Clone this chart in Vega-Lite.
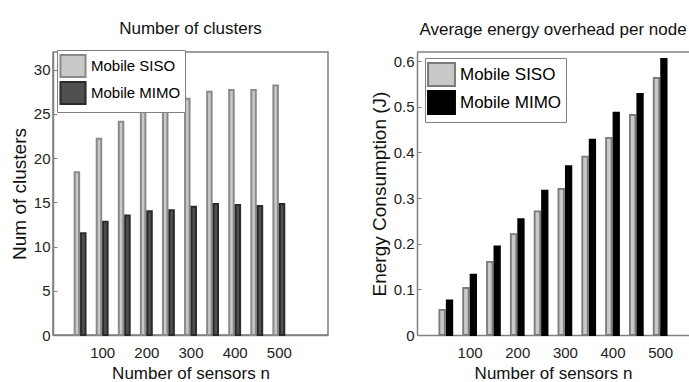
{
  "$schema": "https://vega.github.io/schema/vega-lite/v6.json",
  "background": "white",
  "padding": {"left": 9, "top": 18, "right": 0, "bottom": 0},
  "spacing": 41,
  "datasets": {
    "clusters": [
      {"n": 50, "series": "Mobile SISO", "value": 18.4},
      {"n": 100, "series": "Mobile SISO", "value": 22.2},
      {"n": 150, "series": "Mobile SISO", "value": 24.1},
      {"n": 200, "series": "Mobile SISO", "value": 25.3},
      {"n": 250, "series": "Mobile SISO", "value": 25.8},
      {"n": 300, "series": "Mobile SISO", "value": 26.7},
      {"n": 350, "series": "Mobile SISO", "value": 27.5},
      {"n": 400, "series": "Mobile SISO", "value": 27.7},
      {"n": 450, "series": "Mobile SISO", "value": 27.7},
      {"n": 500, "series": "Mobile SISO", "value": 28.2},
      {"n": 50, "series": "Mobile MIMO", "value": 11.5},
      {"n": 100, "series": "Mobile MIMO", "value": 12.8},
      {"n": 150, "series": "Mobile MIMO", "value": 13.5},
      {"n": 200, "series": "Mobile MIMO", "value": 14.0},
      {"n": 250, "series": "Mobile MIMO", "value": 14.1},
      {"n": 300, "series": "Mobile MIMO", "value": 14.5},
      {"n": 350, "series": "Mobile MIMO", "value": 14.8},
      {"n": 400, "series": "Mobile MIMO", "value": 14.7},
      {"n": 450, "series": "Mobile MIMO", "value": 14.6},
      {"n": 500, "series": "Mobile MIMO", "value": 14.8}
    ],
    "energy": [
      {"n": 50, "series": "Mobile SISO", "value": 0.055},
      {"n": 100, "series": "Mobile SISO", "value": 0.103},
      {"n": 150, "series": "Mobile SISO", "value": 0.160},
      {"n": 200, "series": "Mobile SISO", "value": 0.221},
      {"n": 250, "series": "Mobile SISO", "value": 0.271},
      {"n": 300, "series": "Mobile SISO", "value": 0.320},
      {"n": 350, "series": "Mobile SISO", "value": 0.391},
      {"n": 400, "series": "Mobile SISO", "value": 0.432},
      {"n": 450, "series": "Mobile SISO", "value": 0.482},
      {"n": 500, "series": "Mobile SISO", "value": 0.563},
      {"n": 50, "series": "Mobile MIMO", "value": 0.076},
      {"n": 100, "series": "Mobile MIMO", "value": 0.132},
      {"n": 150, "series": "Mobile MIMO", "value": 0.194},
      {"n": 200, "series": "Mobile MIMO", "value": 0.254},
      {"n": 250, "series": "Mobile MIMO", "value": 0.316},
      {"n": 300, "series": "Mobile MIMO", "value": 0.370},
      {"n": 350, "series": "Mobile MIMO", "value": 0.428},
      {"n": 400, "series": "Mobile MIMO", "value": 0.487},
      {"n": 450, "series": "Mobile MIMO", "value": 0.528},
      {"n": 500, "series": "Mobile MIMO", "value": 0.605}
    ]
  },
  "hconcat": [
    {
      "width": 275,
      "height": 283,
      "title": {"text": "Number of clusters"},
      "view": {"stroke": "#808080", "strokeWidth": 1.5},
      "data": {"name": "clusters"},
      "encoding": {
        "x": {"field": "n", "type": "quantitative", "scale": {"domain": [0, 600], "nice": false}, "axis": {"values": [100, 200, 300, 400, 500], "title": "Number of sensors n"}},
        "y": {"field": "value", "type": "quantitative", "scale": {"domain": [0, 32], "nice": false}, "axis": {"values": [0, 5, 10, 15, 20, 25, 30], "title": "Num of clusters"}},
        "fill": {"field": "series", "type": "nominal", "scale": {"domain": ["Mobile SISO", "Mobile MIMO"], "range": ["#c9c9c9", "#505050"]},
          "legend": {"orient": "none", "legendX": 4, "legendY": -2, "symbolSize": 484, "labelFontSize": 15, "rowPadding": -7, "symbolType": "M-1.14,-1L1.14,-1L1.14,1L-1.14,1Z"}},
        "stroke": {"field": "series", "type": "nominal", "scale": {"domain": ["Mobile SISO", "Mobile MIMO"], "range": ["#8a8a8a", "#2a2a2a"]},
          "legend": {"orient": "none", "legendX": 4, "legendY": -2, "symbolSize": 484, "labelFontSize": 15, "rowPadding": -7, "symbolType": "M-1.14,-1L1.14,-1L1.14,1L-1.14,1Z"}}
      },
      "layer": [
        {"transform": [{"filter": "datum.series === 'Mobile SISO'"}], "mark": {"type": "bar", "width": 4.5, "xOffset": -3.2, "strokeWidth": 2}},
        {"transform": [{"filter": "datum.series === 'Mobile MIMO'"}], "mark": {"type": "bar", "width": 4.5, "xOffset": 3.2, "strokeWidth": 2}}
      ]
    },
    {
      "width": 272,
      "height": 283,
      "title": {"text": "Average energy overhead per node"},
      "view": {"stroke": null},
      "layer": [
        {
          "data": {"name": "energy"},
          "encoding": {
            "x": {"field": "n", "type": "quantitative", "scale": {"domain": [0, 550], "nice": false}, "axis": {"values": [100, 200, 300, 400, 500], "title": "Number of sensors n"}},
            "y": {"field": "value", "type": "quantitative", "scale": {"domain": [0, 0.62], "nice": false}, "axis": {"values": [0, 0.1, 0.2, 0.3, 0.4, 0.5, 0.6], "format": "~g", "title": "Energy Consumption (J)"}},
            "fill": {"field": "series", "type": "nominal", "scale": {"domain": ["Mobile SISO", "Mobile MIMO"], "range": ["#c9c9c9", "#000000"]},
              "legend": {"orient": "none", "legendX": 8, "legendY": 6, "symbolSize": 529, "labelFontSize": 17, "rowPadding": -3, "symbolType": "M-1.17,-1L1.17,-1L1.17,1L-1.17,1Z"}},
            "stroke": {"field": "series", "type": "nominal", "scale": {"domain": ["Mobile SISO", "Mobile MIMO"], "range": ["#7a7a7a", "#000000"]},
              "legend": {"orient": "none", "legendX": 8, "legendY": 6, "symbolSize": 529, "labelFontSize": 17, "rowPadding": -3, "symbolType": "M-1.17,-1L1.17,-1L1.17,1L-1.17,1Z"}}
          },
          "layer": [
            {"transform": [{"filter": "datum.series === 'Mobile SISO'"}], "mark": {"type": "bar", "width": 5.5, "xOffset": -3.7, "strokeWidth": 1.8}},
            {"transform": [{"filter": "datum.series === 'Mobile MIMO'"}], "mark": {"type": "bar", "width": 5.5, "xOffset": 3.7, "strokeWidth": 1.8}}
          ]
        },
        {
          "data": {"values": [{}]},
          "mark": {"type": "rule", "color": "#808080", "strokeWidth": 1.5},
          "encoding": {"y": {"datum": 0.62, "type": "quantitative"}}
        }
      ]
    }
  ],
  "resolve": {
    "scale": {"fill": "independent", "stroke": "independent"},
    "legend": {"fill": "independent", "stroke": "independent"}
  },
  "config": {
    "font": "Liberation Sans",
    "axis": {
      "grid": false,
      "labelFont": "Liberation Sans",
      "labelFontSize": 15,
      "labelColor": "#222222",
      "titleFont": "Liberation Sans",
      "titleFontWeight": "normal",
      "titleColor": "#111111",
      "domainColor": "#808080",
      "domainWidth": 1.5,
      "tickColor": "#808080",
      "tickSize": -4,
      "labelPadding": 14
    },
    "axisX": {"titleFontSize": 17, "titlePadding": 5},
    "axisY": {"titleFontSize": 19, "titlePadding": 4, "labelPadding": 7},
    "title": {"font": "Liberation Sans", "fontSize": 17, "fontWeight": "normal", "color": "#111111", "offset": 12},
    "legend": {
      "title": null,
      "labelFont": "Liberation Sans",
      "labelColor": "#000000",
      "strokeColor": "#808080",
      "fillColor": "white",
      "padding": 4,
      "labelOffset": 6,
      "symbolStrokeWidth": 2
    }
  }
}
